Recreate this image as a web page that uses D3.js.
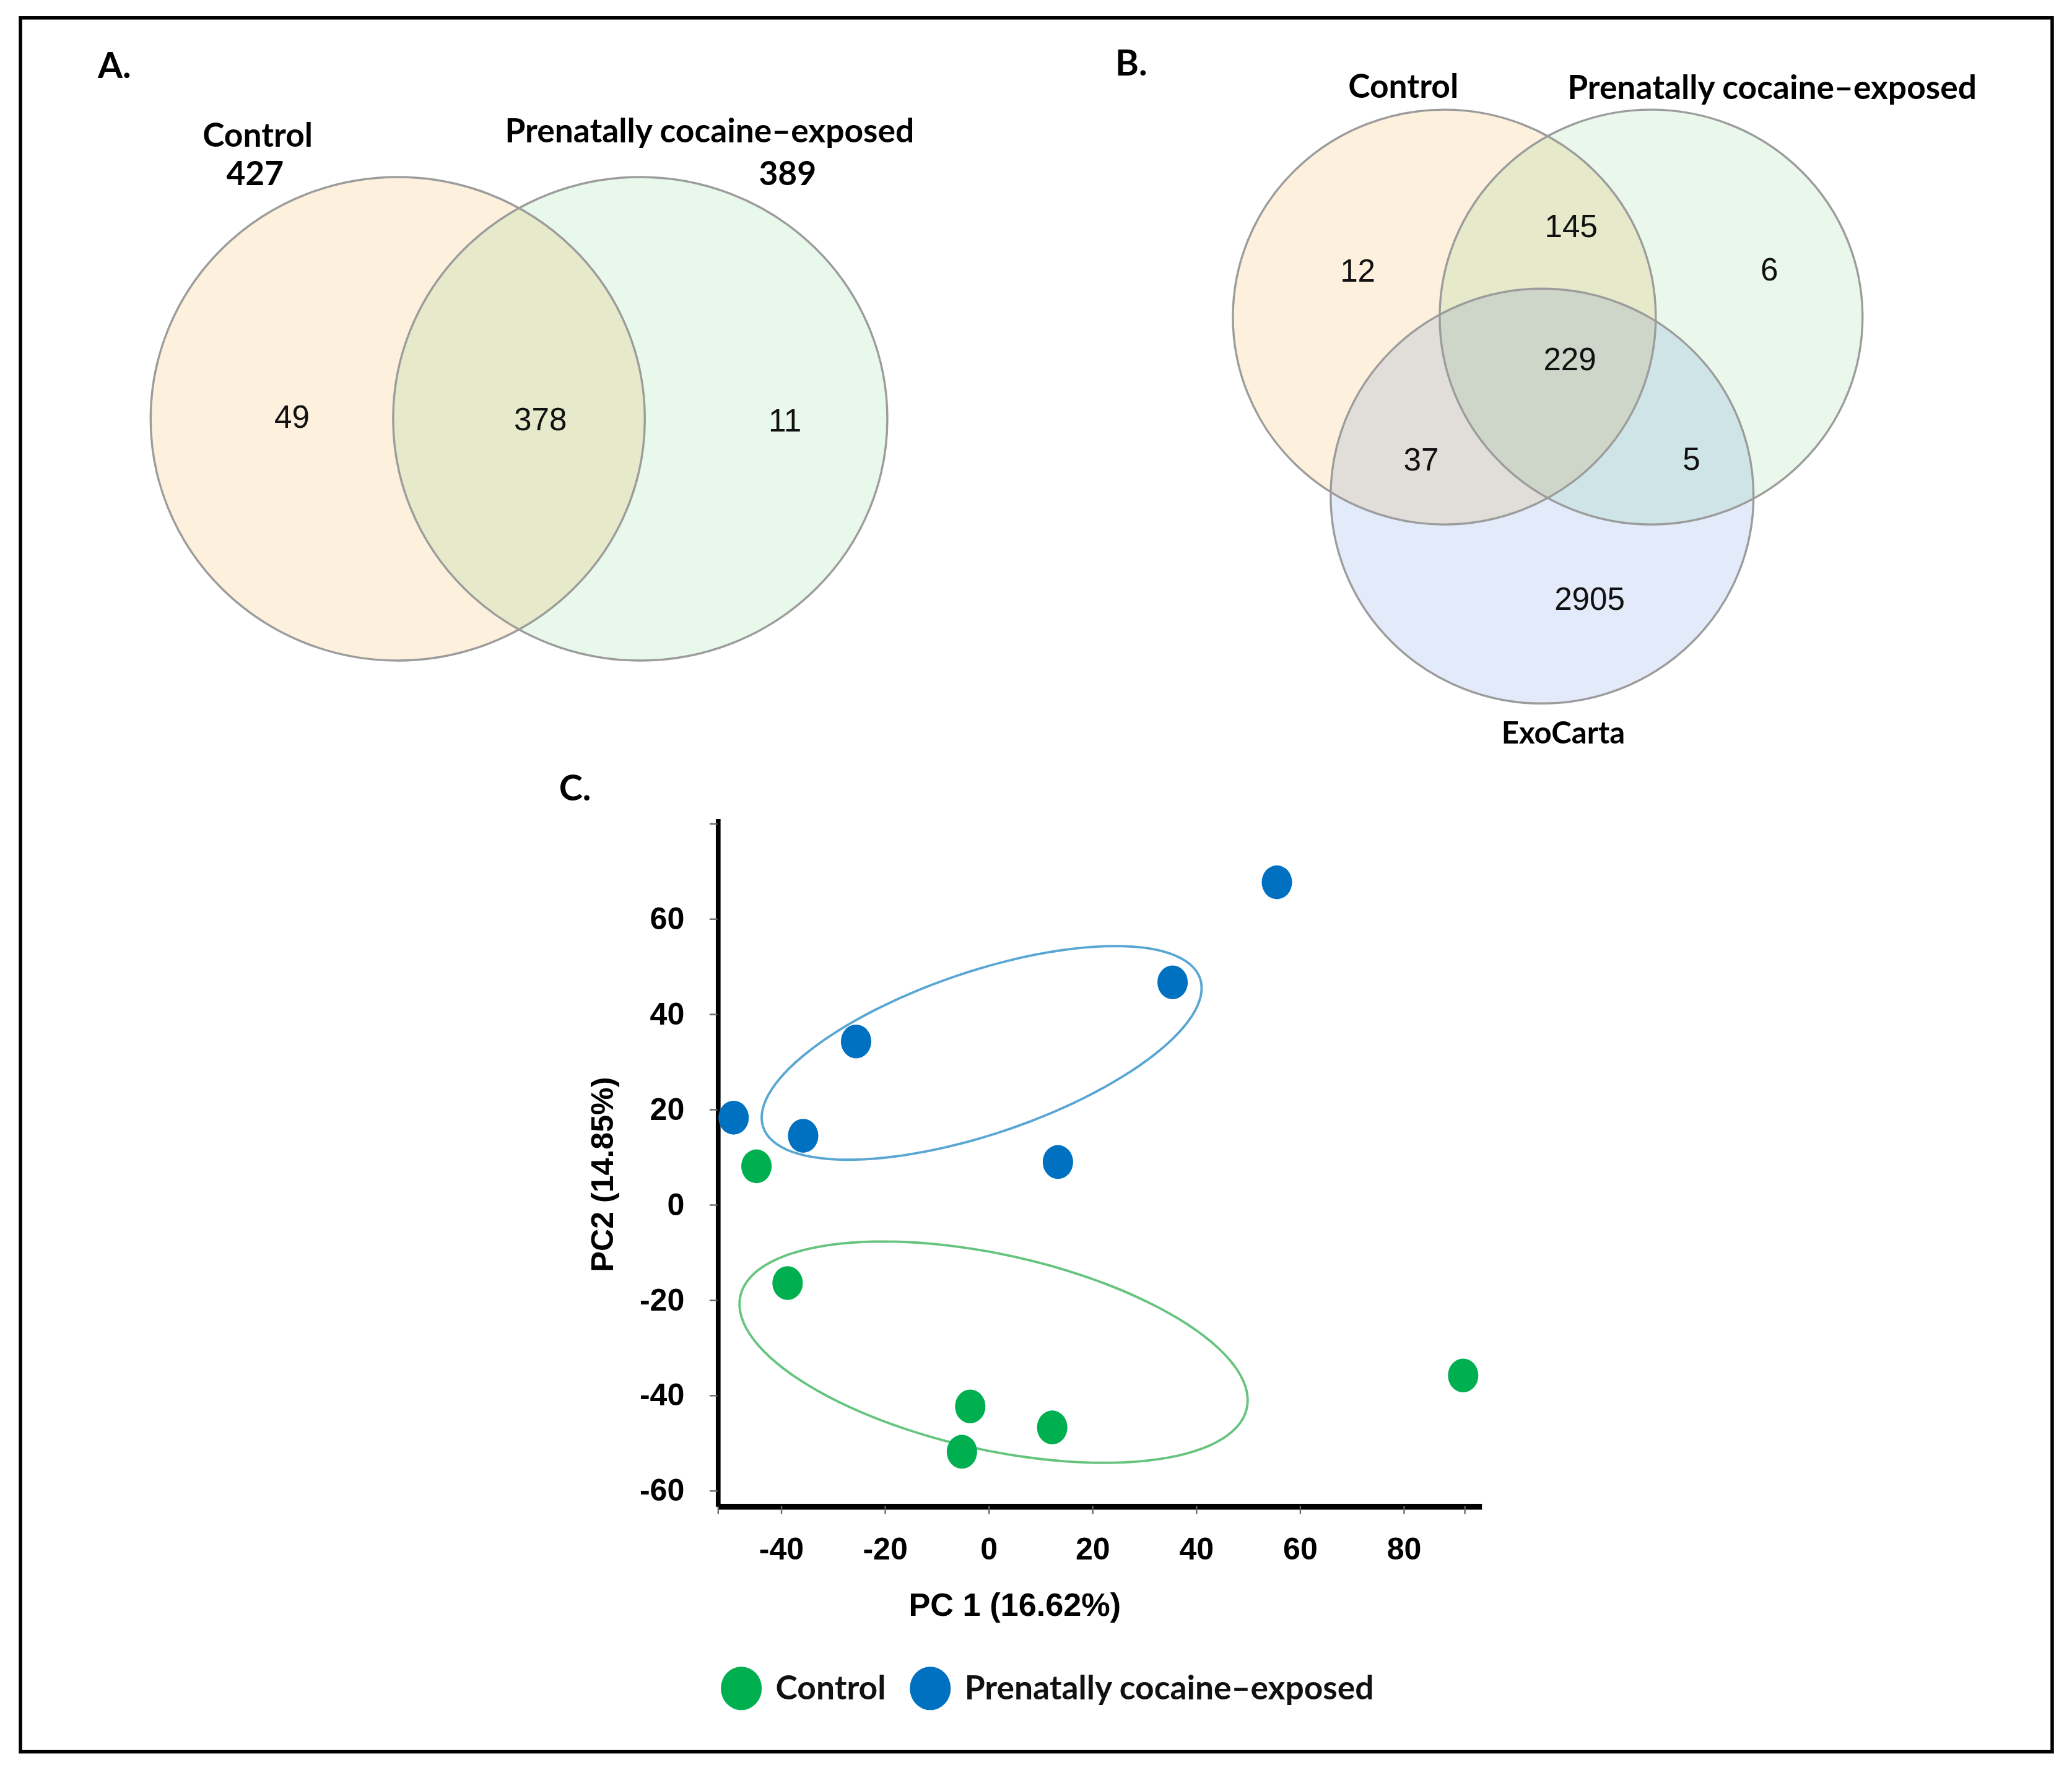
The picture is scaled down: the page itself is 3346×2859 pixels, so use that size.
<!DOCTYPE html>
<html><head><meta charset="utf-8">
<script src="https://cdn.jsdelivr.net/npm/d3@7"></script>
<style>html,body{margin:0;padding:0;background:#fff}svg{display:block}</style>
</head><body>
<svg id="chart"></svg>
<script>
// ---------------- DATA ----------------
// Panel A: two-set Venn
const vennASets = ["Control", "Prenatally cocaine–exposed"];
const vennATotals = [427, 389];
const vennARegions = [49, 378, 11];            // Control only, both, Exposed only
// Panel B: three-set Venn
const vennBSets = ["Control", "Prenatally cocaine–exposed", "ExoCarta"];
const vennBRegions = [12, 145, 6, 229, 37, 5, 2905]; // C, C∩P, P, C∩P∩E, C∩E, P∩E, E
// Panel C: PCA scores
const pcaGroups = ["Control", "Prenatally cocaine–exposed"];
const controlPC1 = [-44.7, -38.7, -3.5, 12.3, -5.1, 91.5];
const controlPC2 = [8.0, -16.5, -42.4, -46.8, -51.9, -35.9];
const exposedPC1 = [-49.1, -35.7, -25.5, 13.4, 35.5, 55.6];
const exposedPC2 = [18.2, 14.4, 34.2, 8.9, 46.6, 67.6];
// group ellipses (centre and two conjugate semi-axes, in PC units)
const controlEllipse = [1.0, -31.0, 48.8, -11.8, -4.1, -20.0];
const exposedEllipse = [-1.3, 31.8, 42.1, 15.6, 5.0, -16.1];
const xTickLabels = [-40, -20, 0, 20, 40, 60, 80];
const yTickLabels = [-60, -40, -20, 0, 20, 40, 60];
const yTickMarks = [-60, -40, -20, 0, 20, 40, 60, 80];
const xTickMarks = [-52.2, -40, -20, 0, 20, 40, 60, 80, 91.7];
const xAxisTitle = "PC 1 (16.62%)";
const yAxisTitle = "PC2 (14.85%)";
const panelLetters = ["A.", "B.", "C."];

// ---------------- LAYOUT ----------------
const W = 1568, H = 1568 * 2859 / 3346;
const svg = d3.select("#chart").attr("width", 3346).attr("height", 2859)
  .attr("viewBox", `0 0 ${W} ${H}`);
const LABEL_FONT = "Lato, 'Open Sans', sans-serif";
const NUM_FONT = "'Liberation Sans', Arial, sans-serif";

svg.append("rect").attr("x", 15.5).attr("y", 13.5).attr("width", 1537.5).attr("height", 1312.5)
  .attr("fill", "#fff").attr("stroke", "#000").attr("stroke-width", 2.6);

// panel letters
const letterPos = [[74, 59], [844, 57], [423, 606]];
svg.selectAll("text.letter").data(panelLetters).join("text").attr("class", "letter")
  .attr("x", (d, i) => letterPos[i][0]).attr("y", (d, i) => letterPos[i][1])
  .attr("font-family", LABEL_FONT).attr("font-weight", 700).attr("font-size", 27).attr("fill", "#000")
  .text(d => d);

function drawVenn(g, circles) {
  const fills = g.append("g").style("isolation", "isolate");
  fills.selectAll("ellipse").data(circles).join("ellipse")
    .attr("cx", d => d.cx).attr("cy", d => d.cy).attr("rx", d => d.rx).attr("ry", d => d.ry)
    .attr("fill", d => d.fill).style("mix-blend-mode", "multiply");
  g.append("g").selectAll("ellipse").data(circles).join("ellipse")
    .attr("cx", d => d.cx).attr("cy", d => d.cy).attr("rx", d => d.rx).attr("ry", d => d.ry)
    .attr("fill", "none").attr("stroke", "#9c9c9c").attr("stroke-width", 1.6);
}

// ---------- Panel A ----------
const gA = svg.append("g");
const aCircles = [
  {cx: 301, cy: 317, rx: 187, ry: 183, fill: "#fdf0dc"},
  {cx: 484.5, cy: 317, rx: 187, ry: 183, fill: "#e8f8eb"}
];
drawVenn(gA, aCircles);
const aSetPos = [[195, 111], [537, 108]];
const aTotPos = [[193, 140], [596, 140]];
gA.selectAll("text.set").data(vennASets).join("text").attr("class", "set")
  .attr("x", (d, i) => aSetPos[i][0]).attr("y", (d, i) => aSetPos[i][1])
  .attr("text-anchor", "middle").attr("font-family", LABEL_FONT).attr("font-weight", 700)
  .attr("font-size", 25).text(d => d);
gA.selectAll("text.tot").data(vennATotals).join("text").attr("class", "tot")
  .attr("x", (d, i) => aTotPos[i][0]).attr("y", (d, i) => aTotPos[i][1])
  .attr("text-anchor", "middle").attr("font-family", LABEL_FONT).attr("font-weight", 700)
  .attr("font-size", 25).text(d => d);
const aRegPos = [[221, 315], [409, 317], [594, 318]];
gA.selectAll("text.reg").data(vennARegions).join("text").attr("class", "reg")
  .attr("x", (d, i) => aRegPos[i][0]).attr("y", (d, i) => aRegPos[i][1])
  .attr("dy", "0.36em").attr("text-anchor", "middle").attr("font-family", NUM_FONT)
  .attr("font-size", 24).attr("fill", "#111").text(d => d);

// ---------- Panel B ----------
const gB = svg.append("g");
const bCircles = [
  {cx: 1093, cy: 240, rx: 160, ry: 157, fill: "#fdf0dd"},
  {cx: 1249.5, cy: 240, rx: 160, ry: 157, fill: "#e9f8eb"},
  {cx: 1167, cy: 375.5, rx: 160, ry: 157, fill: "#e3ebfb"}
];
drawVenn(gB, bCircles);
const bSetPos = [[1062, 74], [1341, 75], [1183, 563]];
gB.selectAll("text.set").data(vennBSets).join("text").attr("class", "set")
  .attr("x", (d, i) => bSetPos[i][0]).attr("y", (d, i) => bSetPos[i][1])
  .attr("text-anchor", "middle").attr("font-family", LABEL_FONT).attr("font-weight", 700)
  .attr("font-size", (d, i) => i === 2 ? 23 : 25).text(d => d);
const bRegPos = [[1027.5, 204.5], [1189, 171], [1339, 203.5], [1188, 271.5], [1075.5, 347.5], [1280, 347], [1203, 453]];
gB.selectAll("text.reg").data(vennBRegions).join("text").attr("class", "reg")
  .attr("x", (d, i) => bRegPos[i][0]).attr("y", (d, i) => bRegPos[i][1])
  .attr("dy", "0.36em").attr("text-anchor", "middle").attr("font-family", NUM_FONT)
  .attr("font-size", 24).attr("fill", "#111").text(d => d);

// ---------- Panel C ----------
const gC = svg.append("g");
const x = d3.scaleLinear().domain([-52.2, 95]).range([543, 1121]);
const y = d3.scaleLinear().domain([-63.3, 81]).range([1140, 619.5]);

// ellipses
function ellipsePath(e) {
  const [cx, cy, ux, uy, vx, vy] = e;
  const pts = d3.range(0, 361, 3).map(a => {
    const t = a * Math.PI / 180;
    return [x(cx + ux * Math.cos(t) + vx * Math.sin(t)), y(cy + uy * Math.cos(t) + vy * Math.sin(t))];
  });
  return d3.line()(pts) + "Z";
}
gC.append("path").attr("d", ellipsePath(exposedEllipse)).attr("fill", "none")
  .attr("stroke", "#5aa6d3").attr("stroke-width", 1.8);
gC.append("path").attr("d", ellipsePath(controlEllipse)).attr("fill", "none")
  .attr("stroke", "#66c47f").attr("stroke-width", 1.8);

// axes
const xAxis = d3.axisBottom(x).tickValues(xTickMarks).tickSize(6).tickSizeOuter(0).tickPadding(18)
  .tickFormat(d => xTickLabels.includes(d) ? d : "");
const gx = gC.append("g").attr("transform", `translate(0,${y.range()[0]})`).call(xAxis);
const yAxis = d3.axisLeft(y).tickValues(yTickMarks).tickSize(6).tickSizeOuter(0).tickPadding(19)
  .tickFormat(d => yTickLabels.includes(d) ? d : "");
const gy = gC.append("g").attr("transform", `translate(${x.range()[0]},0)`).call(yAxis);
[gx, gy].forEach(g => {
  g.selectAll(".tick line").attr("stroke", "#666").attr("stroke-width", 1.1);
  g.selectAll(".tick text").attr("font-family", NUM_FONT).attr("font-weight", 700)
    .attr("font-size", 23.5).attr("fill", "#000");
  g.select(".domain").attr("stroke", "#000");
});
gx.select(".domain").attr("stroke-width", 4.5);
gy.select(".domain").attr("stroke-width", 3.6);

gC.append("text").attr("x", 768).attr("y", 1223).attr("text-anchor", "middle")
  .attr("font-family", NUM_FONT).attr("font-weight", 700).attr("font-size", 24.5).text(xAxisTitle);
gC.append("text").attr("transform", "translate(464,889) rotate(-90)").attr("text-anchor", "middle")
  .attr("font-family", NUM_FONT).attr("font-weight", 700).attr("font-size", 23.5).text(yAxisTitle);

// points
const colors = {"Control": "#00b050", "Prenatally cocaine–exposed": "#0070c0"};
const pts = [
  ...exposedPC1.map((v, i) => ({g: pcaGroups[1], x: v, y: exposedPC2[i]})),
  ...controlPC1.map((v, i) => ({g: pcaGroups[0], x: v, y: controlPC2[i]}))
];
gC.selectAll("ellipse.pt").data(pts).join("ellipse").attr("class", "pt")
  .attr("cx", d => x(d.x)).attr("cy", d => y(d.y)).attr("rx", 11.5).attr("ry", 12.8)
  .attr("fill", d => colors[d.g]);

// legend
const legX = [561, 704];
const lg = gC.selectAll("g.leg").data(pcaGroups).join("g").attr("class", "leg")
  .attr("transform", (d, i) => `translate(${legX[i]},1278)`);
lg.append("ellipse").attr("rx", 15.5).attr("ry", 16.5).attr("fill", d => colors[d]);
lg.append("text").attr("x", 26).attr("y", 8.5).attr("font-family", LABEL_FONT).attr("font-weight", 700)
  .attr("font-size", 25).attr("fill", "#111").text(d => d);
</script>
</body></html>
